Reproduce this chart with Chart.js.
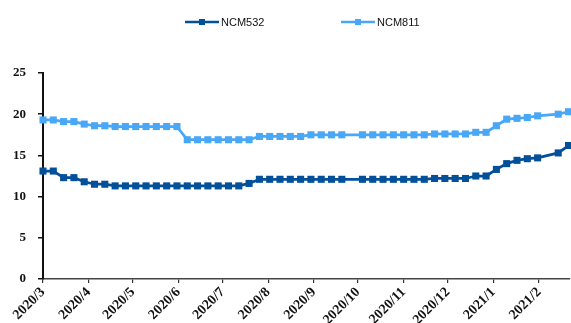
<!DOCTYPE html>
<html>
<head>
<meta charset="utf-8">
<script src="https://cdn.jsdelivr.net/npm/chart.js@4/dist/chart.umd.min.js"></script>
<style>
  html, body { margin: 0; padding: 0; background: #fff; }
  #wrap { width: 571px; height: 323px; }
</style>
</head>
<body>
<div id="wrap"><canvas id="c"></canvas></div>
<script>
// Weekly observation dates (no quotes published in the National Day and Spring Festival weeks)
const weekDates = [
  '2020-03-01','2020-03-08','2020-03-15','2020-03-22','2020-03-29',
  '2020-04-05','2020-04-12','2020-04-19','2020-04-26',
  '2020-05-03','2020-05-10','2020-05-17','2020-05-24','2020-05-31',
  '2020-06-07','2020-06-14','2020-06-21','2020-06-28',
  '2020-07-05','2020-07-12','2020-07-19','2020-07-26',
  '2020-08-02','2020-08-09','2020-08-16','2020-08-23','2020-08-30',
  '2020-09-06','2020-09-13','2020-09-20',
  '2020-10-04','2020-10-11','2020-10-18','2020-10-25',
  '2020-11-01','2020-11-08','2020-11-15','2020-11-22','2020-11-29',
  '2020-12-06','2020-12-13','2020-12-20','2020-12-27',
  '2021-01-03','2021-01-10','2021-01-17','2021-01-24','2021-01-31',
  '2021-02-14','2021-02-21'
];

// Cathode material prices
const ncm532 = [
  13.1, 13.1, 12.3, 12.3, 11.8, 11.5, 11.5,
  11.3, 11.3, 11.3, 11.3, 11.3, 11.3, 11.3, 11.3, 11.3, 11.3, 11.3, 11.3, 11.3,
  11.6,
  12.1, 12.1, 12.1, 12.1, 12.1, 12.1, 12.1, 12.1, 12.1, 12.1, 12.1, 12.1, 12.1, 12.1, 12.1, 12.1,
  12.2, 12.2, 12.2, 12.2,
  12.5, 12.5,
  13.3, 14.0, 14.4, 14.6, 14.7, 15.3, 16.2
];
const ncm811 = [
  19.3, 19.3, 19.1, 19.1, 18.8, 18.6, 18.6,
  18.5, 18.5, 18.5, 18.5, 18.5, 18.5, 18.5,
  16.9, 16.9, 16.9, 16.9, 16.9, 16.9, 16.9,
  17.3, 17.3, 17.3, 17.3, 17.3,
  17.5, 17.5, 17.5, 17.5, 17.5, 17.5, 17.5, 17.5, 17.5, 17.5, 17.5,
  17.6, 17.6, 17.6, 17.6,
  17.8, 17.8,
  18.6, 19.4, 19.5, 19.6, 19.8, 20.0, 20.3
];

const monthLabels = ['2020/3','2020/4','2020/5','2020/6','2020/7','2020/8',
                     '2020/9','2020/10','2020/11','2020/12','2021/1','2021/2'];
const yTicks = [0, 5, 10, 15, 20, 25];

const seriesNames = ['NCM532', 'NCM811'];
const seriesColors = ['#03509A', '#49A7F7'];

// ---- day offsets on a linear axis ----
const DAY = 86400000;
const origin = Date.UTC(2020, 2, 1);
const dayOf = (y, m, d) => (Date.UTC(y, m - 1, d) - origin) / DAY;
const dateDay = s => { const [y, m, d] = s.split('-').map(Number); return dayOf(y, m, d); };
const monthDay = s => { const [y, m] = s.split('/').map(Number); return dayOf(y, m, 1); };

const xs = weekDates.map(dateDay);
const monthTicks = monthLabels.map(monthDay);
const toPoints = vals => vals.map((v, i) => ({ x: xs[i], y: v }));

// legend: line + square marker + name, one entry per series
const seriesKey = {
  id: 'seriesKey',
  afterDraw(chart, args, opts) {
    const ctx = chart.ctx;
    chart.data.datasets.forEach((ds, i) => {
      const x = opts.x + i * opts.step;
      const y = opts.y;
      ctx.save();
      ctx.strokeStyle = ds.borderColor;
      ctx.lineWidth = 2.5;
      ctx.beginPath();
      ctx.moveTo(x, y);
      ctx.lineTo(x + 34, y);
      ctx.stroke();
      ctx.fillStyle = ds.borderColor;
      ctx.fillRect(x + 14, y - 3, 6, 6);
      ctx.fillStyle = '#111';
      ctx.font = '11px "Liberation Sans", Arial, sans-serif';
      ctx.textBaseline = 'middle';
      ctx.textAlign = 'left';
      ctx.fillText(ds.label, x + 36, y + 0.5);
      ctx.restore();
    });
  }
};

const serif = '"Liberation Serif", "Times New Roman", serif';

new Chart(document.getElementById('c'), {
  type: 'line',
  data: {
    datasets: [ncm532, ncm811].map((vals, i) => ({
      label: seriesNames[i],
      data: toPoints(vals),
      borderColor: seriesColors[i],
      backgroundColor: seriesColors[i],
      borderWidth: 2.75,
      pointStyle: 'rect',
      pointRadius: 5,
      pointBorderWidth: 0,
      pointHoverRadius: 5,
      tension: 0,
      clip: false
    }))
  },
  options: {
    responsive: true,
    maintainAspectRatio: false,
    animation: false,
    devicePixelRatio: 1,
    layout: { autoPadding: false, padding: { top: 73, right: 1, bottom: 0, left: 0 } },
    plugins: {
      legend: { display: false },
      tooltip: { enabled: false },
      seriesKey: { x: 185, step: 156, y: 22 }
    },
    scales: {
      x: {
        type: 'linear',
        min: monthTicks[0],
        max: 358,
        afterBuildTicks: s => { s.ticks = monthTicks.map(v => ({ value: v })); },
        afterFit: s => { s.height = 44; s.paddingRight = 0; },
        ticks: {
          autoSkip: false,
          minRotation: 45,
          maxRotation: 45,
          padding: 1,
          color: '#111',
          font: { family: serif, weight: 'bold', size: 14 },
          callback: (v, i) => monthLabels[i]
        },
        grid: { drawOnChartArea: false, drawTicks: true, tickLength: 4, color: '#333', lineWidth: 1.2 },
        border: { display: true, color: '#444', width: 1.5 }
      },
      y: {
        min: 0,
        max: 25,
        afterBuildTicks: s => { s.ticks = yTicks.map(v => ({ value: v })); },
        afterFit: s => { s.width = 43; },
        ticks: { padding: 12, color: '#111', font: { family: serif, weight: 'bold', size: 13 } },
        grid: { drawOnChartArea: false, drawTicks: true, tickLength: 5, color: '#111', lineWidth: 1.5 },
        border: { display: true, color: '#111', width: 2 }
      }
    }
  },
  plugins: [seriesKey]
});
</script>
</body>
</html>
